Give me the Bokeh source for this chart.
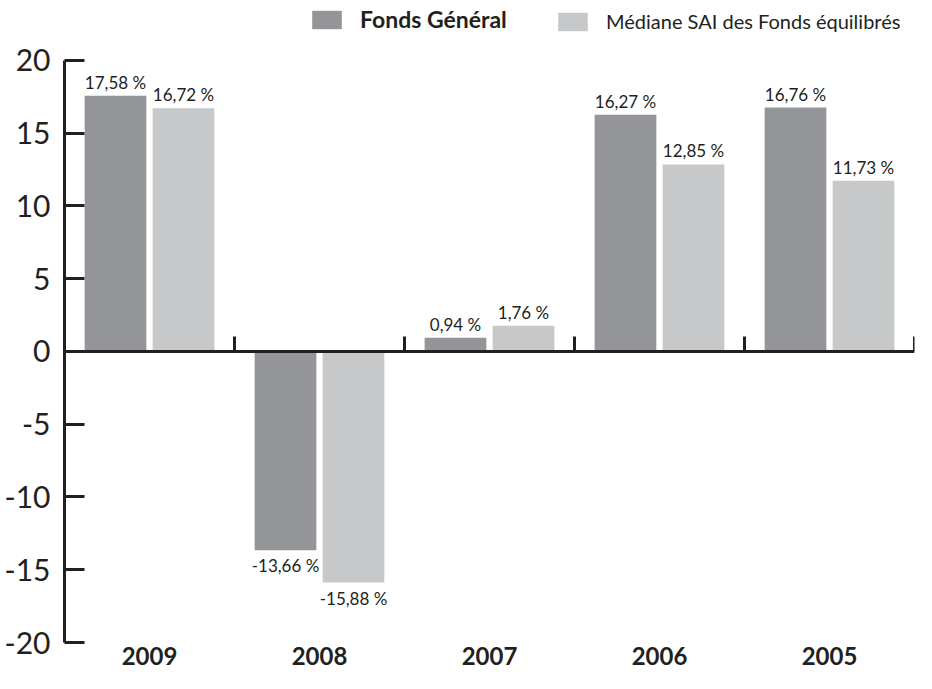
from bokeh.plotting import figure
from bokeh.models import (ColumnDataSource, Range1d, FixedTicker, LinearAxis,
                          Legend, LegendItem)
from bokeh.core.properties import value
from bokeh.embed import file_html
from bokeh.resources import INLINE

categories = ["2009", "2008", "2007", "2006", "2005"]
fonds_general = [17.58, -13.66, 0.94, 16.27, 16.76]
mediane_sai = [16.72, -15.88, 1.76, 12.85, 11.73]
series_names = ["Fonds Général", "Médiane SAI des Fonds équilibrés"]
y_ticks = [-20, -15, -10, -5, 0, 5, 10, 15, 20]

DARK = "#939598"
LIGHT = "#c7c8ca"
INK = "#231f20"
FONT = "Lato"

centers = [i + 0.5 for i in range(len(categories))]
boundaries = [i + 1 for i in range(len(categories))]


def fmt(v):
    return f"{v:.2f}".replace(".", ",") + " %"


def make_source(vals, offset):
    return ColumnDataSource(dict(
        x=[c + offset for c in centers],
        top=vals,
        label=[fmt(v) for v in vals],
    ))


src_a = make_source(fonds_general, -0.2)
src_b = make_source(mediane_sai, 0.2)

p = figure(width=916, height=673, output_backend="svg", toolbar_location=None,
           x_range=Range1d(0, len(categories)), y_range=Range1d(-20, 24.12),
           min_border_left=64, min_border_right=2, min_border_top=0,
           min_border_bottom=31, x_axis_type=None, y_axis_type=None)
p.grid.visible = False
p.outline_line_color = None
p.background_fill_color = "white"

r_a = p.vbar(x="x", top="top", bottom=0, width=0.363, source=src_a,
             fill_color=DARK, line_color=None)
r_b = p.vbar(x="x", top="top", bottom=0, width=0.363, source=src_b,
             fill_color=LIGHT, line_color=None)

for src in (src_a, src_b):
    d = src.data
    pos = ColumnDataSource(dict(
        x=[x for x, v in zip(d["x"], d["top"]) if v >= 0],
        y=[v for v in d["top"] if v >= 0],
        t=[l for l, v in zip(d["label"], d["top"]) if v >= 0]))
    neg = ColumnDataSource(dict(
        x=[x for x, v in zip(d["x"], d["top"]) if v < 0],
        y=[v for v in d["top"] if v < 0],
        t=[l for l, v in zip(d["label"], d["top"]) if v < 0]))
    p.text(x="x", y="y", text="t", source=pos, text_align="center",
           text_baseline="bottom", y_offset=-3, text_font=value(FONT),
           text_font_size="17px", text_color=INK)
    p.text(x="x", y="y", text="t", source=neg, text_align="center",
           text_baseline="top", y_offset=5, text_font=value(FONT),
           text_font_size="17px", text_color=INK)

# y axis
yax = LinearAxis(ticker=FixedTicker(ticks=y_ticks), bounds=(-20, 20),
                 major_label_overrides={t: str(t) for t in y_ticks})
yax.axis_line_color = INK
yax.axis_line_width = 3
yax.major_tick_line_color = INK
yax.major_tick_line_width = 3
yax.major_tick_in = 20
yax.major_tick_out = 0
yax.minor_tick_line_color = None
yax.major_label_standoff = 14
yax.major_label_text_font = FONT
yax.major_label_text_font_size = "30px"
yax.major_label_text_color = INK
p.add_layout(yax, "left")

# zero axis with category boundary ticks
zax = LinearAxis(ticker=FixedTicker(ticks=boundaries), fixed_location=0)
zax.axis_line_color = INK
zax.axis_line_width = 3
zax.major_tick_line_color = INK
zax.major_tick_line_width = 3
zax.major_tick_in = 15
zax.major_tick_out = 0
zax.minor_tick_line_color = None
zax.major_label_text_font_size = "0px"
zax.major_label_text_color = None
zax.major_label_standoff = 0
p.add_layout(zax, "below")

# year labels axis
xax = LinearAxis(ticker=FixedTicker(ticks=centers),
                 major_label_overrides={c: cat for c, cat in zip(centers, categories)})
xax.axis_line_color = None
xax.major_tick_line_color = None
xax.major_tick_in = 0
xax.major_tick_out = 0
xax.minor_tick_line_color = None
xax.major_label_standoff = 4
xax.major_label_text_font = FONT
xax.major_label_text_font_style = "bold"
xax.major_label_text_font_size = "24px"
xax.major_label_text_color = INK
p.add_layout(xax, "below")


# legends
def make_legend(renderer, name, x, style, size):
    lg = Legend(items=[LegendItem(label=name, renderers=[renderer])],
                location=(x, 609), orientation="horizontal",
                glyph_width=37, glyph_height=23, label_height=23,
                label_standoff=15, padding=0, margin=0, spacing=0,
                border_line_color=None, background_fill_alpha=0,
                label_text_font=FONT, label_text_font_size=size,
                label_text_font_style=style, label_text_color=INK,
                label_text_baseline="middle")
    p.add_layout(lg, "center")


make_legend(r_a, series_names[0], 244, "bold", "23px")
make_legend(r_b, series_names[1], 490, "normal", "20px")

open("out.html", "w").write(file_html(p, INLINE))
